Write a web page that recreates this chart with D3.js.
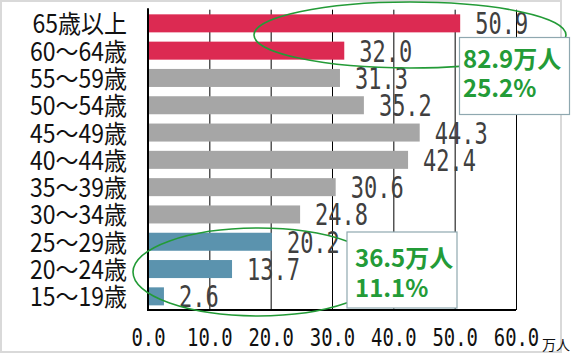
<!DOCTYPE html>
<html>
<head>
<meta charset="utf-8">
<script src="https://cdn.jsdelivr.net/npm/d3@7"></script>
<style>
  body { margin: 0; background: #fff; }
  svg { display: block; }
</style>
</head>
<body>
<script>
// categories top to bottom
const categories = ["65歳以上", "60～64歳", "55～59歳", "50～54歳", "45～49歳", "40～44歳",
                    "35～39歳", "30～34歳", "25～29歳", "20～24歳", "15～19歳"];
const values = [50.9, 32.0, 31.3, 35.2, 44.3, 42.4, 30.6, 24.8, 20.2, 13.7, 2.6];
const groups = ["senior", "senior", "mid", "mid", "mid", "mid", "mid", "mid", "young", "young", "young"];
const ticks = [0, 10, 20, 30, 40, 50, 60];
const unitLabel = "万人";
const noteSenior = ["82.9万人", "25.2%"];
const noteYoung = ["36.5万人", "11.1%"];

const couleurs = { senior: "#dc2a52", mid: "#a6a6a6", young: "#5b93ae" };
const vert = "#239b37";

const largeur = 580, hauteur = 363;
const marges = { top: 9.7, left: 148, right: 64, bottom: 53 };

const svg = d3.select("body").append("svg")
    .attr("width", largeur)
    .attr("height", hauteur);

// cadre gris
svg.append("rect")
    .attr("x", 1).attr("y", 1)
    .attr("width", 560).attr("height", 351)
    .attr("fill", "#fff")
    .attr("stroke", "#d9d9d9")
    .attr("stroke-width", 2);

const echelleX = d3.scaleLinear()
    .domain([0, 60])
    .range([marges.left, largeur - marges.right]);

const echelleY = d3.scaleBand()
    .domain(categories)
    .range([marges.top, 310])
    .paddingInner(0.34)
    .paddingOuter(0.17);

const basY = 310;

// grille + etiquettes de l'axe X
const axeX = d3.axisBottom(echelleX)
    .tickValues(ticks)
    .tickSize(-(basY - marges.top))
    .tickFormat(d3.format(".1f"));

const gX = svg.append("g")
    .attr("transform", "translate(0," + basY + ")")
    .call(axeX);
gX.select(".domain").remove();
gX.selectAll(".tick line").attr("stroke", "#000").attr("stroke-width", 1);
gX.selectAll(".tick text")
    .attr("y", 0).attr("dy", 0)
    .attr("fill", "#111")
    .attr("font-family", "'DejaVu Sans Mono', monospace")
    .attr("font-size", 21)
    .attr("transform", "translate(0,36) scale(0.9,1.18)");

// barres
svg.append("g").selectAll("rect")
    .data(values)
    .join("rect")
    .attr("x", echelleX(0))
    .attr("y", (d, i) => echelleY(categories[i]))
    .attr("width", d => echelleX(d) - echelleX(0))
    .attr("height", echelleY.bandwidth())
    .attr("fill", (d, i) => couleurs[groups[i]]);

// valeurs
svg.append("g").selectAll("text")
    .data(values)
    .join("text")
    .attr("transform", (d, i) => "translate(" + (echelleX(d) + 15) + "," +
        (echelleY(categories[i]) + echelleY.bandwidth() / 2 + 11) + ") scale(0.88,1.2)")
    .attr("font-family", "'DejaVu Sans Mono', monospace")
    .attr("font-size", 25)
    .attr("fill", "#404040")
    .text(d => d.toFixed(1));

// axe Y
const axeY = d3.axisLeft(echelleY).tickSize(0);
const gY = svg.append("g")
    .attr("transform", "translate(" + marges.left + ",0)")
    .call(axeY);
gY.select(".domain").remove();
gY.selectAll(".tick text")
    .attr("x", 0).attr("dy", 0)
    .attr("text-anchor", "end")
    .attr("fill", "#111")
    .attr("font-family", "'Noto Sans CJK JP', sans-serif")
    .attr("font-size", 23)
    .attr("transform", "translate(-21,10) scale(1,1.1)");

// lignes d'axe
svg.append("line")
    .attr("x1", marges.left).attr("x2", marges.left)
    .attr("y1", marges.top - 1.5).attr("y2", basY + 1)
    .attr("stroke", "#000").attr("stroke-width", 2);
svg.append("line")
    .attr("x1", marges.left).attr("x2", echelleX(60))
    .attr("y1", basY).attr("y2", basY)
    .attr("stroke", "#000").attr("stroke-width", 2);

// unite
svg.append("text")
    .attr("x", 542).attr("y", 350)
    .attr("font-family", "'Noto Sans CJK JP', sans-serif")
    .attr("font-size", 14)
    .attr("fill", "#111")
    .text(unitLabel);

// ellipses
svg.append("ellipse")
    .attr("cx", 410).attr("cy", 35).attr("rx", 156).attr("ry", 33)
    .attr("fill", "none").attr("stroke", vert).attr("stroke-width", 1.6);
svg.append("ellipse")
    .attr("cx", 258).attr("cy", 272).attr("rx", 125).attr("ry", 44)
    .attr("fill", "none").attr("stroke", vert).attr("stroke-width", 1.6);

// boites d'annotation
function boite(x, y, w, h, lignes, dx, dy1, dy2) {
    svg.append("rect")
        .attr("x", x).attr("y", y).attr("width", w).attr("height", h)
        .attr("fill", "#fff")
        .attr("stroke", "#8fa8b0")
        .attr("stroke-width", 1.2);
    svg.append("g").selectAll("text")
        .data(lignes)
        .join("text")
        .attr("x", x + dx)
        .attr("y", (d, i) => y + (i === 0 ? dy1 : dy2))
        .attr("font-family", "'Noto Sans CJK JP', sans-serif")
        .attr("font-weight", "bold")
        .attr("font-size", 24)
        .attr("fill", vert)
        .text(d => d);
}
boite(459.5, 37.5, 110, 77, noteSenior, 3.5, 30, 59.5);
boite(347, 232, 110, 76, noteYoung, 8, 35, 65);
</script>
</body>
</html>
